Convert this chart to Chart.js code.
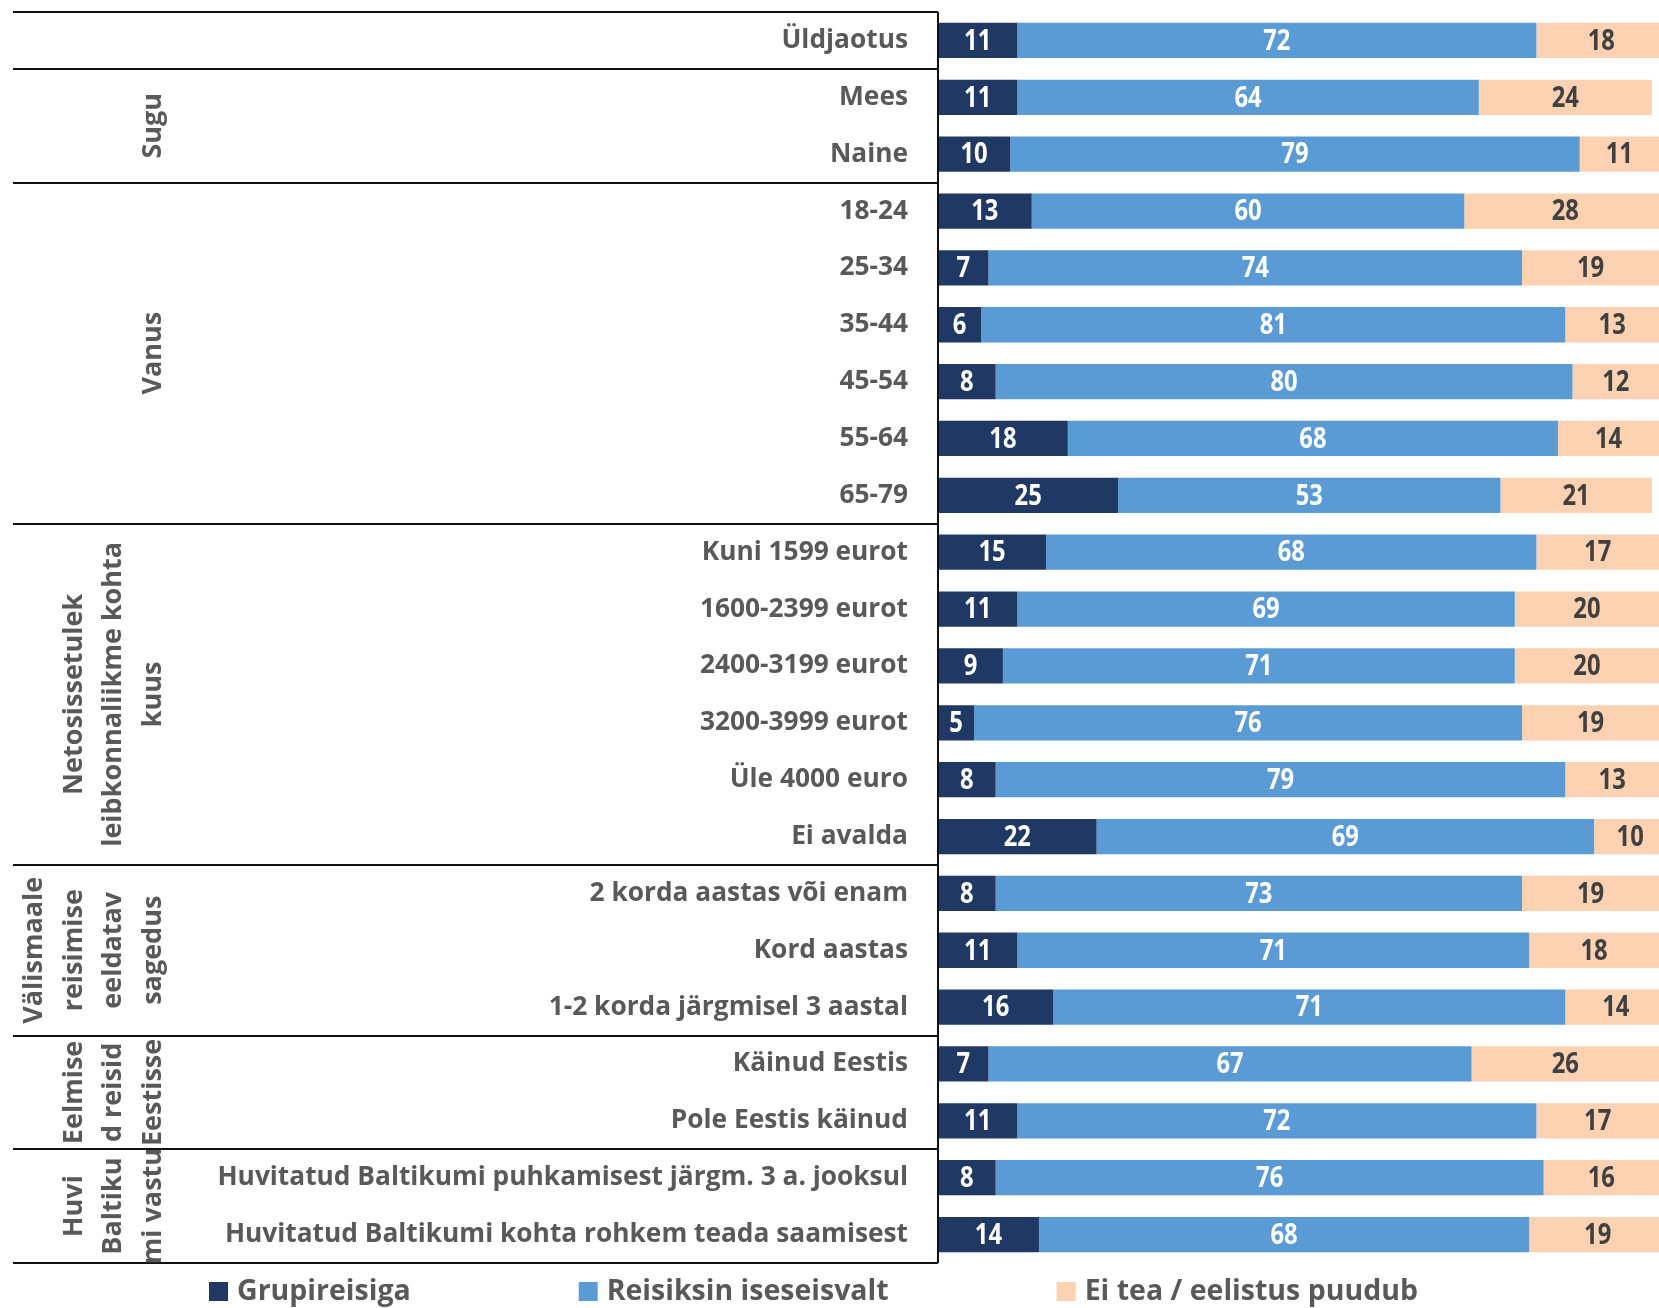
<!DOCTYPE html>
<html>
<head>
<meta charset="utf-8">
<script src="https://cdn.jsdelivr.net/npm/chart.js@4.4.1/dist/chart.umd.min.js"></script>
<style>
  body { margin: 0; background: #fff; }
  canvas { display: block; }
</style>
</head>
<body>
<canvas id="travelChart" width="1659" height="1308"></canvas>
<script>
  // categories (rows, top to bottom)
  const categories = [
    "Üldjaotus",
    "Mees", "Naine",
    "18-24", "25-34", "35-44", "45-54", "55-64", "65-79",
    "Kuni 1599 eurot", "1600-2399 eurot", "2400-3199 eurot", "3200-3999 eurot", "Üle 4000 euro", "Ei avalda",
    "2 korda aastas või enam", "Kord aastas", "1-2 korda järgmisel 3 aastal",
    "Käinud Eestis", "Pole Eestis käinud",
    "Huvitatud Baltikumi puhkamisest järgm. 3 a. jooksul", "Huvitatud Baltikumi kohta rohkem teada saamisest"
  ];

  // series values (%)
  const grupireisiga = [11, 11, 10, 13, 7, 6, 8, 18, 25, 15, 11, 9, 5, 8, 22, 8, 11, 16, 7, 11, 8, 14];
  const iseseisvalt = [72, 64, 79, 60, 74, 81, 80, 68, 53, 68, 69, 71, 76, 79, 69, 73, 71, 71, 67, 72, 76, 68];
  const eiTea = [18, 24, 11, 28, 19, 13, 12, 14, 21, 17, 20, 20, 19, 13, 10, 19, 18, 14, 26, 17, 16, 19];

  const seriesNames = ["Grupireisiga", "Reisiksin iseseisvalt", "Ei tea / eelistus puudub"];

  // category groups: label lines, first row index, last row index
  const groupLabels = [
    [[], 0, 0],
    [["Sugu"], 1, 2],
    [["Vanus"], 3, 8],
    [["Netosissetulek", "leibkonnaliikme kohta", "kuus"], 9, 14],
    [["Välismaale", "reisimise", "eeldatav", "sagedus"], 15, 17],
    [["Eelmise", "d reisid", "Eestisse"], 18, 19],
    [["Huvi", "Baltiku", "mi vastu"], 20, 21]
  ];

  const FONT = "'Open Sans', sans-serif";
  const GREY = "#595959";

  // value labels inside the bars
  const barLabels = {
    id: "barLabels",
    afterDatasetsDraw(chart) {
      const ctx = chart.ctx;
      ctx.save();
      ctx.font = "bold 29px " + FONT;
      ctx.textAlign = "center";
      ctx.textBaseline = "middle";
      chart.data.datasets.forEach((ds, di) => {
        const meta = chart.getDatasetMeta(di);
        meta.data.forEach((bar, i) => {
          const cx = (bar.x + bar.base) / 2;
          ctx.save();
          ctx.translate(cx, bar.y + 1);
          ctx.scale(0.82, 1);
          ctx.fillStyle = di === 2 ? "#404040" : "#ffffff";
          ctx.fillText(String(ds.data[i]), 0, 0);
          ctx.restore();
        });
      });
      ctx.restore();
    }
  };

  // group dividers, group labels and legend
  const tableFrame = {
    id: "tableFrame",
    afterDraw(chart) {
      const ctx = chart.ctx;
      const area = chart.chartArea;
      const y = chart.scales.y;
      const left = 13;
      ctx.save();
      ctx.strokeStyle = "#111";
      ctx.lineWidth = 2;

      // vertical axis line
      ctx.beginPath();
      ctx.moveTo(area.left, area.top);
      ctx.lineTo(area.left, area.bottom);
      ctx.stroke();

      // horizontal lines between groups
      const edge = (i) => {
        if (i <= 0) return area.top;
        if (i >= categories.length) return area.bottom;
        return (y.getPixelForTick(i - 1) + y.getPixelForTick(i)) / 2;
      };
      const lines = [0];
      groupLabels.forEach(g => lines.push(g[2] + 1));
      lines.forEach(i => {
        const py = Math.round(edge(i));
        ctx.beginPath();
        ctx.moveTo(left, py);
        ctx.lineTo(area.left, py);
        ctx.stroke();
      });

      // rotated group labels
      ctx.fillStyle = GREY;
      ctx.font = "bold 27px " + FONT;
      ctx.textAlign = "center";
      ctx.textBaseline = "middle";
      groupLabels.forEach(([txt, a, b]) => {
        const cy = (y.getPixelForTick(a) + y.getPixelForTick(b)) / 2;
        const n = txt.length;
        txt.forEach((t, j) => {
          const cx = 153 - (n - 1 - j) * 39.5;
          ctx.save();
          ctx.translate(cx, cy);
          ctx.rotate(-Math.PI / 2);
          ctx.fillText(t, 0, 0);
          ctx.restore();
        });
      });

      // legend
      ctx.font = "bold 28.5px " + FONT;
      ctx.textAlign = "left";
      let lx = 209;
      const ly = 1291;
      chart.data.datasets.forEach(ds => {
        ctx.fillStyle = ds.backgroundColor;
        ctx.fillRect(lx, ly - 9, 19, 19);
        ctx.fillStyle = GREY;
        ctx.fillText(ds.label, lx + 28, ly + 1);
        lx += 28 + ctx.measureText(ds.label).width + 168;
      });
      ctx.restore();
    }
  };

  const ctx = document.getElementById("travelChart").getContext("2d");

  const travelChart = new Chart(ctx, {
    type: "bar",
    data: {
      labels: categories,
      datasets: [
        { label: seriesNames[0], data: grupireisiga, backgroundColor: "#203864" },
        { label: seriesNames[1], data: iseseisvalt, backgroundColor: "#5B9BD5" },
        { label: seriesNames[2], data: eiTea, backgroundColor: "#FCD2B3" }
      ]
    },
    options: {
      indexAxis: "y",
      responsive: false,
      animation: false,
      datasets: {
        bar: { categoryPercentage: 1.0, barPercentage: 0.62 }
      },
      layout: { padding: { top: 12, bottom: 45, left: 0, right: 0 } },
      plugins: {
        legend: { display: false },
        tooltip: { enabled: false }
      },
      scales: {
        x: {
          stacked: true,
          min: 0,
          max: 100,
          display: false
        },
        y: {
          stacked: true,
          grid: { display: false, drawTicks: false },
          border: { display: false },
          afterFit(scale) {
            scale.width = 938;
            scale.paddingTop = 0;
            scale.paddingBottom = 0;
          },
          ticks: {
            autoSkip: false,
            padding: 30,
            color: GREY,
            font: { family: FONT, size: 26.3, weight: "bold" }
          }
        }
      }
    },
    plugins: [barLabels, tableFrame]
  });
</script>
</body>
</html>
